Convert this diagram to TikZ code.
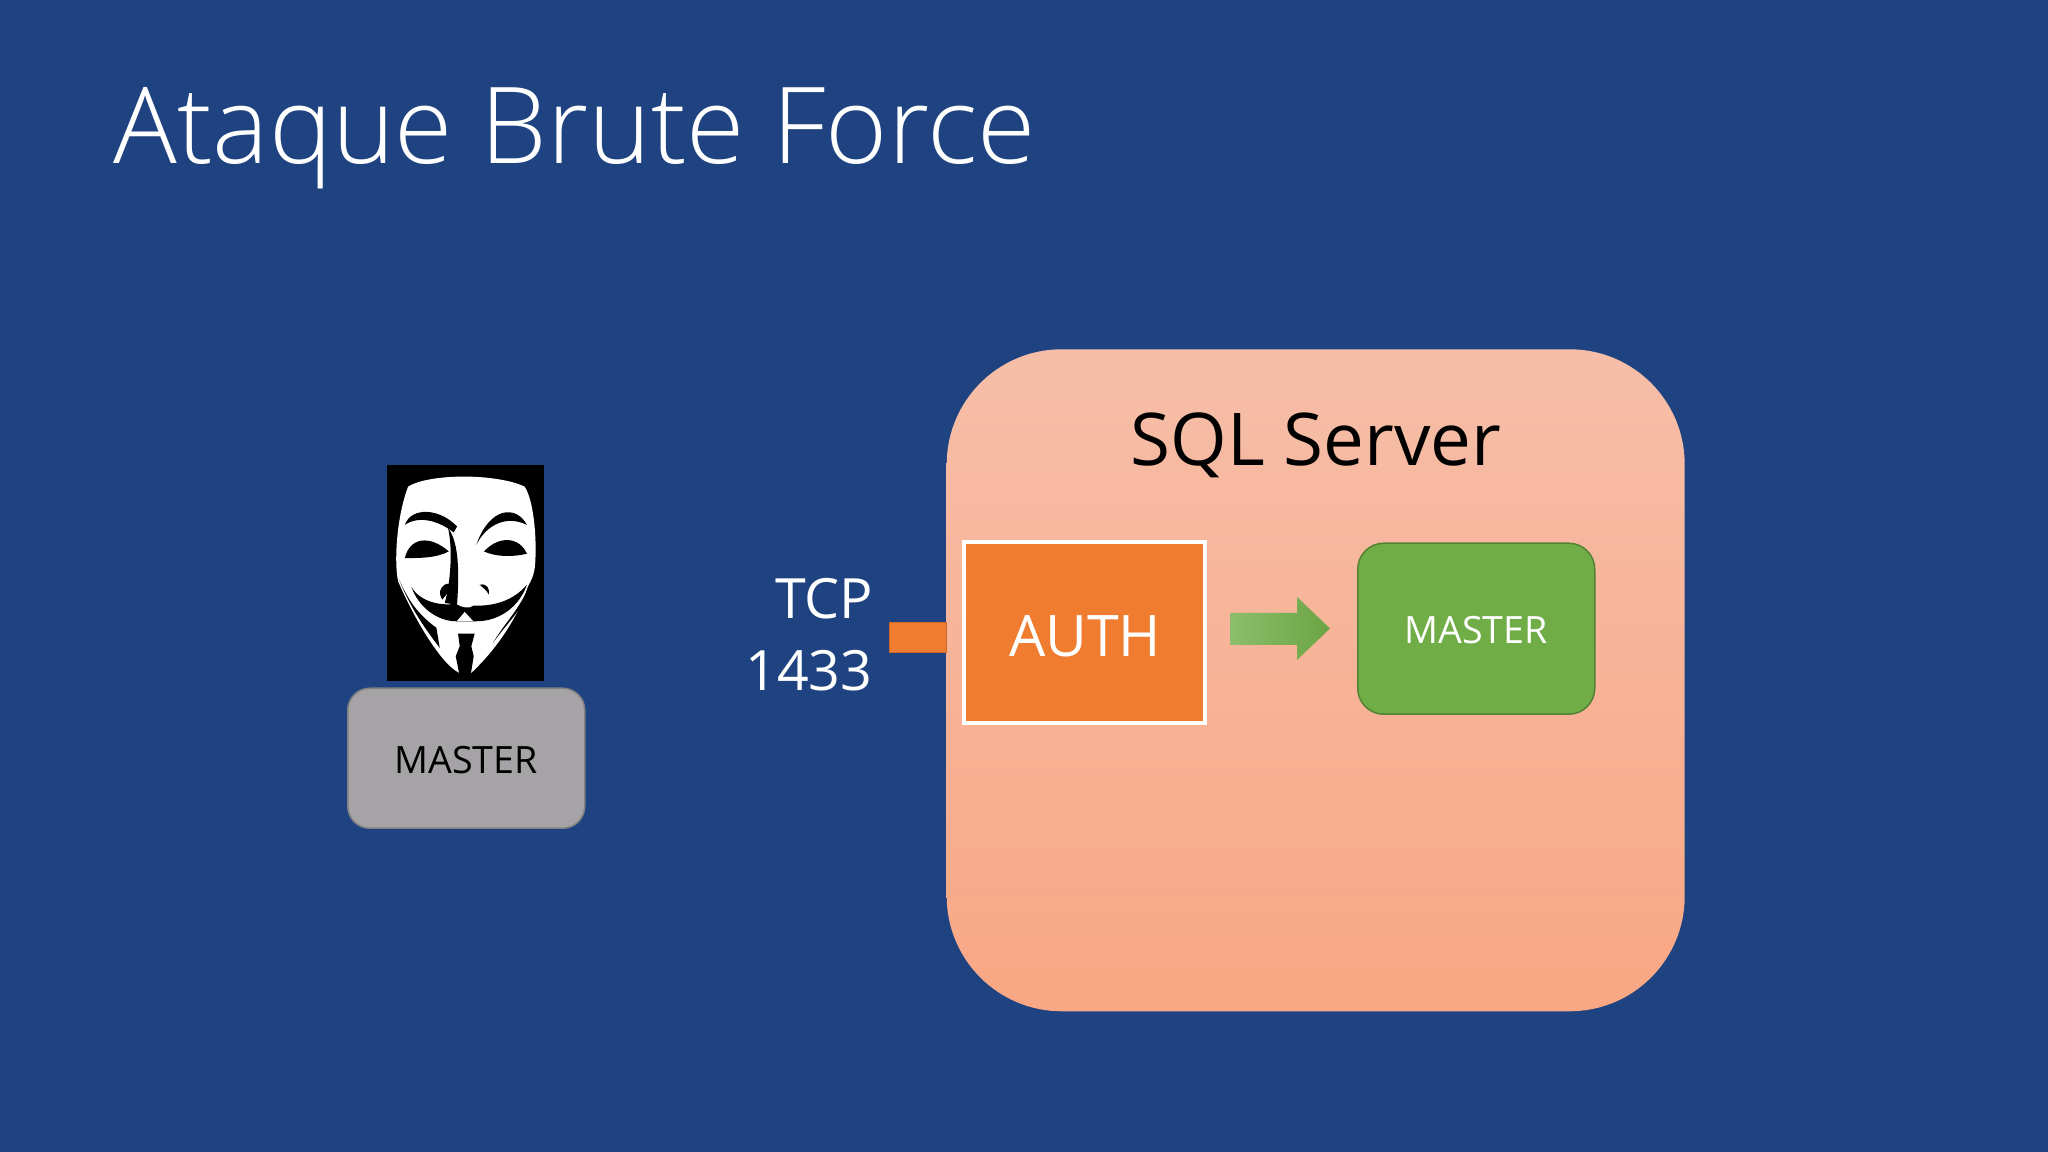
\documentclass[tikz,border=0pt]{standalone}
\usepackage{fontspec}
\setmainfont{Open Sans}
\newfontfamily\lightfont{Open Sans Light}
\definecolor{slideblue}{HTML}{1F4380}
\definecolor{authorange}{HTML}{F07C30}
\definecolor{mastergreen}{HTML}{70AD47}
\definecolor{mastergrey}{HTML}{A5A3A6}
\definecolor{servertop}{HTML}{F6BEA8}
\definecolor{serverbottom}{HTML}{F9A784}
\tikzset{
    textlabel/.style={inner sep=0pt,font=\fontsize{15.8}{16}\selectfont},
    masterlabel/.style={inner sep=0pt,font=\fontsize{10.7}{11}\selectfont},
    boxnode/.style={rectangle,anchor=south west,inner sep=0pt}
}
\begin{document}
\begin{tikzpicture}
            \fill[slideblue] (0,0) rectangle (20.48,11.52);
            \useasboundingbox (0,0) rectangle (20.48,11.52);
            \node (title) [inner sep=0pt,anchor=base west,text=white,font=\lightfont\fontsize{30.2}{31}\selectfont] at (1.13,9.88) {Ataque Brute Force};
            \node (server) [boxnode,rounded corners=1.15cm,top color=servertop,bottom color=serverbottom,minimum width=7.38cm,minimum height=6.62cm] at (9.46,1.40) {};
            \node (sqllabel) [inner sep=0pt,font=\fontsize{20.7}{21}\selectfont] at (13.16,7.07) {SQL Server};
            \node (auth) [boxnode,fill=authorange,draw=white,line width=0.04cm,minimum width=2.41cm,minimum height=1.81cm] at (9.62,4.27) {};
            \node (authlabel) [textlabel,text=white,font=\fontsize{16.3}{17}\selectfont] at (10.85,5.16) {AUTH};
            \node (port) [boxnode,fill=authorange,draw=authorange!85!black,line width=0.01cm,minimum width=0.57cm,minimum height=0.30cm] at (8.89,4.99) {};
            \node (tcp) [textlabel,text=white,anchor=east] at (8.74,5.53) {TCP};
            \node (portnumber) [textlabel,text=white,anchor=east] at (8.73,4.81) {1433};
            \node (master) [boxnode,rounded corners=0.26cm,fill=mastergreen,draw=mastergreen!75!black,line width=0.015cm,minimum width=2.37cm,minimum height=1.71cm] at (13.57,4.37) {};
            \node (masterlabel) [masterlabel,text=white] at (14.76,5.22) {MASTER};
            \shade[left color=mastergreen!80!white,right color=mastergreen!95!black] (12.30,5.39) -- (12.97,5.39) -- (12.97,5.55) -- (13.30,5.235) -- (12.97,4.92) -- (12.97,5.07) -- (12.30,5.07) -- cycle;
            \node (client) [boxnode,rounded corners=0.22cm,fill=mastergrey,draw=gray,line width=0.015cm,minimum width=2.37cm,minimum height=1.40cm] at (3.47,3.23) {};
            \node (clientlabel) [masterlabel] at (4.66,3.92) {MASTER};
            \begin{scope}[shift={(3.30,7.02)},x=0.003333cm,y=-0.003333cm]
                \fill[black] (172,45) rectangle (642,695);
                \fill[white] (235,110) .. controls (300,70) and (500,70) .. (585,110) .. controls (612,150) and (622,260) .. (617,340) .. controls (615,380) and (600,400) .. (595,410) .. controls (570,490) and (510,590) .. (425,670) -- (388,670) .. controls (330,640) and (250,500) .. (205,395) .. controls (192,340) and (200,200) .. (235,110) -- cycle;
                % eyes and brows
                \fill[black] (225,325) .. controls (240,262) and (300,255) .. (357,305) .. controls (320,325) and (270,325) .. cycle;
                \fill[black] (592,312) .. controls (570,262) and (510,255) .. (463,305) .. controls (500,322) and (550,322) .. cycle;
                \fill[black] (225,225) .. controls (245,170) and (330,175) .. (382,230) -- (372,248) .. controls (330,215) and (270,195) .. cycle;
                \fill[black] (592,225) .. controls (560,165) and (480,170) .. (440,285) .. controls (470,225) and (530,195) .. cycle;
                % nose and moustache
                \fill[black] (355,235) .. controls (390,280) and (388,380) .. (382,465) -- (345,460) .. controls (362,400) and (370,300) .. cycle;
                \fill[black] (245,412) .. controls (270,455) and (330,470) .. (378,462) .. controls (395,475) and (420,478) .. (432,468) .. controls (490,470) and (550,455) .. (592,405) .. controls (570,470) and (510,515) .. (440,515) -- (380,515) .. controls (320,515) and (265,470) .. cycle;
                \fill[white] (405,487) -- (430,514) -- (382,514) -- cycle;
                \fill[black] (335,415) .. controls (350,395) and (365,400) .. (362,415) .. controls (355,430) and (345,440) .. (338,450) .. controls (330,440) and (328,425) .. cycle;
                \fill[black] (450,405) .. controls (475,400) and (480,420) .. (478,435) .. controls (470,420) and (460,415) .. cycle;
                % jaw lines and goatee
                \fill[black] (208,390) .. controls (235,450) and (260,490) .. (320,535) -- (330,595) .. controls (280,530) and (240,470) .. cycle;
                \fill[black] (600,405) .. controls (590,470) and (540,510) .. (490,580) .. controls (525,520) and (570,480) .. cycle;
                \fill[black] (385,552) -- (435,552) -- (425,590) -- (432,620) -- (424,670) -- (388,670) -- (378,620) -- (390,590) -- cycle;
            \end{scope}
        \end{tikzpicture}
\end{document}
